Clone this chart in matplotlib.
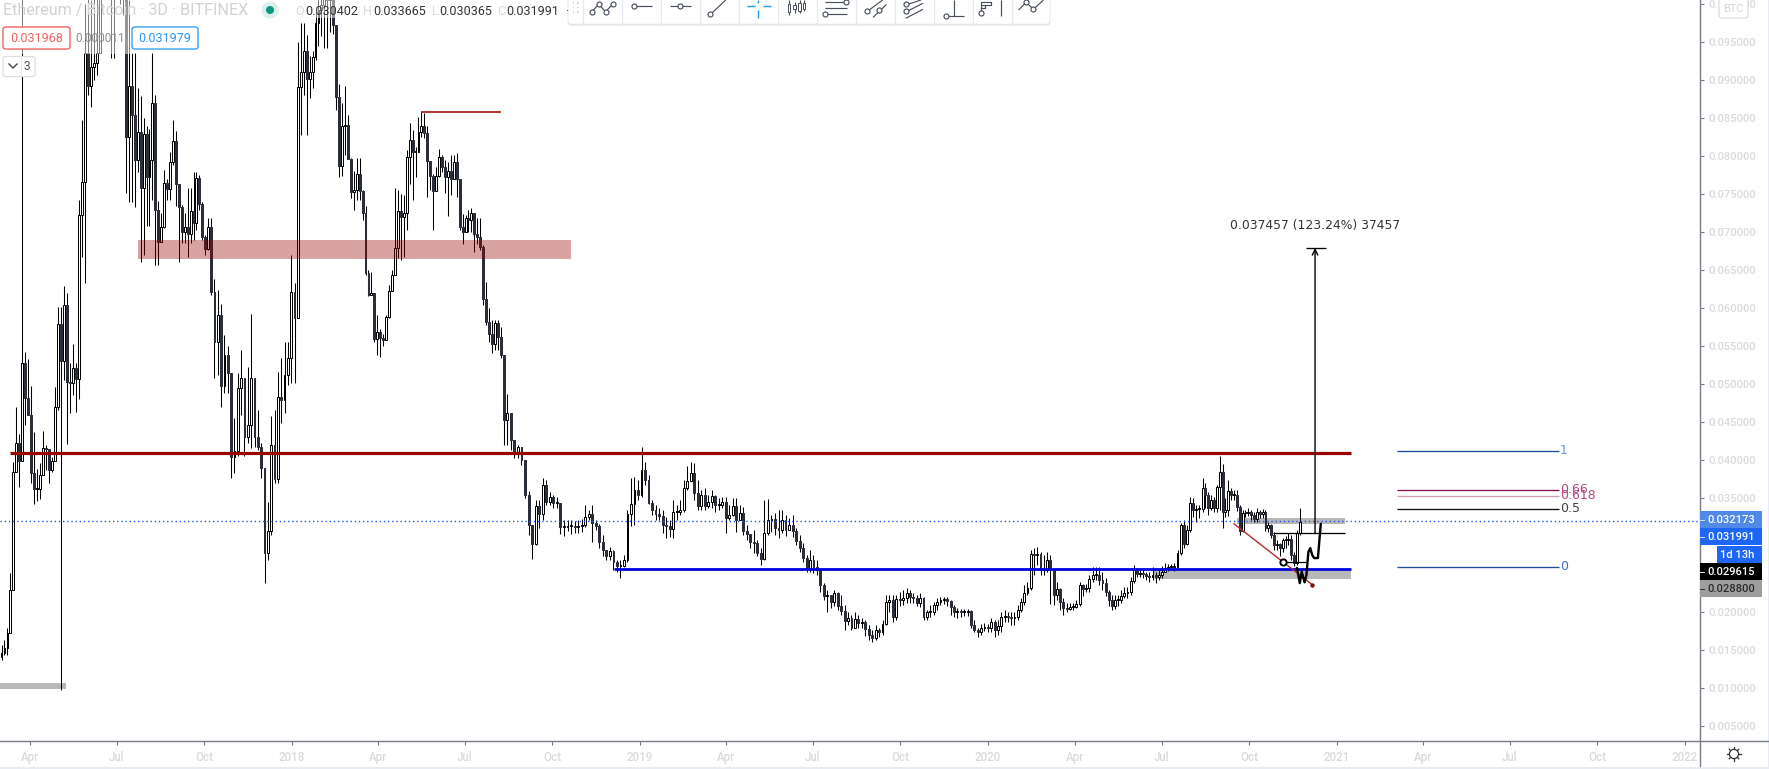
import matplotlib
matplotlib.use("Agg")
import matplotlib.pyplot as plt
import matplotlib.dates as mdates
from matplotlib.patches import Rectangle, FancyBboxPatch, Circle
import numpy as np
import pandas as pd

plt.rcParams['font.family'] = ['Roboto', 'DejaVu Sans']

# ---------- data: (close, high, low) of each 3D candle, period by period ----------
period_starts = ['2017-02-27', '2017-06-13', '2017-10-08', '2018-01-07', '2018-04-25', '2018-08-11',
                 '2018-11-23', '2019-03-06', '2019-06-21', '2019-10-04', '2020-01-15', '2020-04-30',
                 '2020-08-13', '2020-11-26']
first_open = 0.0135

candles_a = [(.0141,.0150,.0124),(.0146,.0157,.0137),(.0153,.0163,.0143),(.0172,.0179,.0143),(.0229,.0251,.0220),
(.0384,.0397,.0317),(.0422,.0470,.0384),(.0399,.0434,.0364),(.0528,.1100,.0461),(.0482,.0542,.0446),
(.0459,.0533,.0459),(.0383,.0497,.0370),(.0362,.0437,.0342),(.0362,.0388,.0346),(.0380,.0396,.0349),
(.0416,.0438,.0393),(.0414,.0420,.0387),(.0387,.0414,.0370),(.0399,.0404,.0384),(.0470,.0496,.0399),
(.0579,.0601,.0466),(.0530,.0601,.0097),(.0604,.0629,.0505),(.0503,.0620,.0421),(.0501,.0528,.0462),
(.0521,.0553,.0486),(.0507,.0528,.0463),(.0722,.0742,.0480),(.0766,.0847,.0667),(.0935,.1000,.0633),
(.0892,.1020,.0880),(.0917,.1005,.0864),(.0922,.1010,.0900),(.0935,.1050,.0907)]

candles_b = [(.108,.120,.0990),(.118,.130,.105),(.128,.140,.112),(.135,.150,.120),(.140,.155,.0929),(.130,.150,.0929),
(.135,.150,.115),(.125,.140,.100),(.115,.130,.0985),
(.0825,.112,.0751),(.0892,.1005,.0739),(.0854,.0935,.0739),(.0795,.0935,.0733),(.0832,.0890,.0779),
(.0758,.0879,.0661),(.0829,.0850,.0670),(.0772,.0839,.0708),(.0795,.0835,.0708),(.0870,.0935,.0742),
(.0729,.0880,.0657),(.0687,.0741,.0657),(.0707,.0725,.0687),(.0764,.0782,.0705),(.0757,.0770,.0742),
(.0792,.0805,.0742),(.0820,.0847,.0788),(.0763,.0833,.0734),(.0733,.0763,.0661),(.0700,.0735,.0686),
(.0707,.0725,.0686),(.0697,.0758,.0667),(.0728,.0758,.0686),(.0712,.0779,.0690),(.0771,.0779,.0703),
(.0737,.0775,.0729),(.0693,.0739,.0689),(.0678,.0696,.0670),(.0707,.0718,.0676)]

candles_c = [(.0621,.0718,.0617),(.0555,.0638,.0508),(.0591,.0624,.0512),(.0497,.0605,.0470),(.0538,.0564,.0488),
(.0514,.0550,.0488),(.0404,.0514,.0376),(.0412,.0455,.0383),(.0495,.0514,.0405),(.0508,.0545,.0459),
(.0430,.0508,.0405),(.0446,.0522,.0422),(.0508,.0592,.0416),(.0430,.0508,.0417),(.0417,.0466,.0413),
(.0389,.0422,.0376),(.0278,.0389,.0238),(.0307,.0345,.0268),(.0420,.0458,.0301),(.0375,.0466,.0370),
(.0483,.0516,.0370),(.0479,.0534,.0449),(.0512,.0555,.0462),(.0534,.0555,.0499),(.0621,.0670,.0501),
(.0587,.0633,.0501)]

candles_d = [(.0891,.0950,.0587),(.0911,.0975,.0828),(.0938,.0975,.0880),(.0901,.0959,.0828),(.0911,.0932,.0876),
(.0930,.0938,.0889),(.0975,.0990,.0926),(.0992,.1020,.0945),(.0999,.1040,.0958),(.1009,.1060,.0942),
(.1005,.1070,.0942),(.1012,.1070,.0963),(.0972,.1040,.0960),(.0878,.0972,.0860),(.0787,.0895,.0772),
(.0839,.0870,.0774),(.0841,.0892,.0801),(.0796,.0854,.0796),(.0753,.0797,.0745),(.0755,.0780,.0729),
(.0776,.0797,.0742),(.0754,.0797,.0742),(.0725,.0755,.0716),(.0646,.0734,.0643),(.0617,.0650,.0616),
(.0620,.0647,.0617),(.0559,.0620,.0555),(.0568,.0591,.0538),(.0561,.0572,.0536),(.0558,.0566,.0550),
(.0588,.0591,.0558),(.0622,.0630,.0587),(.0643,.0650,.0622),(.0679,.0758,.0643),(.0728,.0755,.0666)]

candles_e = [(.0720,.0750,.0663),(.0725,.0749,.0667),(.0799,.0808,.0703),(.0821,.0843,.0763),(.0805,.0834,.0742),
(.0805,.0812,.0772),(.0832,.0851,.0805),(.0839,.0858,.0825),(.0830,.0857,.0824),(.0793,.0839,.0746),
(.0774,.0791,.0755),(.0754,.0776,.0703),(.0774,.0785,.0755),(.0799,.0809,.0772),(.0786,.0801,.0779),
(.0772,.0795,.0751),(.0780,.0792,.0721),(.0770,.0801,.0749),(.0792,.0801,.0771),(.0770,.0804,.0746),
(.0707,.0770,.0703),(.0700,.0724,.0684),(.0718,.0722,.0700),(.0716,.0729,.0700),(.0725,.0732,.0700),
(.0697,.0725,.0674),(.0693,.0718,.0684),(.0680,.0718,.0676),(.0612,.0683,.0604),(.0582,.0634,.0578),
(.0566,.0600,.0555),(.0553,.0584,.0541),(.0580,.0584,.0545),(.0562,.0584,.0545),(.0538,.0575,.0534)]

candles_f = [(.0453,.0538,.0420),(.0462,.0487,.0420),(.0426,.0462,.0413),(.0411,.0426,.0403),(.0417,.0420,.0403),
(.0400,.0417,.0393),(.0354,.0400,.0350),(.0314,.0359,.0301),(.0289,.0314,.0270),(.0339,.0347,.0288),
(.0329,.0347,.0311),(.0367,.0376,.0321),(.0345,.0374,.0341),(.0351,.0358,.0341),(.0343,.0354,.0337),
(.0343,.0351,.0337),(.0312,.0343,.0303),(.0312,.0321,.0300),(.0313,.0321,.0306),(.0313,.0321,.0303),
(.0312,.0320,.0304),(.0313,.0321,.0304),(.0314,.0322,.0305),(.0325,.0341,.0312),(.0329,.0334,.0321),
(.0317,.0341,.0292),(.0313,.0321,.0308),(.0292,.0316,.0284)]

candles_g = [(.0282,.0301,.0274),(.0274,.0282,.0268),(.0280,.0286,.0268),(.0266,.0282,.0255),(.0261,.0268,.0253),
(.0261,.0268,.0245),(.0268,.0275,.0259),(.0329,.0334,.0266),(.0342,.0376,.0313),(.0361,.0378,.0314),
(.0354,.0374,.0347),(.0387,.0417,.0351),(.0374,.0397,.0367),(.0343,.0380,.0342),(.0334,.0347,.0328),
(.0329,.0341,.0321),(.0326,.0337,.0321),(.0314,.0334,.0304),(.0313,.0325,.0297),(.0309,.0321,.0299),
(.0332,.0347,.0297),(.0332,.0341,.0321),(.0334,.0347,.0328),(.0363,.0374,.0332),(.0372,.0392,.0361),
(.0383,.0397,.0374),(.0357,.0396,.0347),(.0339,.0374,.0334)]

candles_h = [(.0354,.0360,.0334),(.0339,.0363,.0334),(.0345,.0354,.0337),(.0353,.0360,.0337),(.0341,.0354,.0332),
(.0341,.0350,.0334),(.0345,.0351,.0337),(.0324,.0351,.0304),(.0328,.0341,.0321),(.0339,.0350,.0326),
(.0321,.0350,.0305),(.0330,.0341,.0321),(.0307,.0338,.0301),(.0303,.0314,.0295),(.0292,.0301,.0284),
(.0291,.0308,.0278),(.0278,.0295,.0274),(.0270,.0284,.0262),(.0304,.0347,.0268),(.0321,.0349,.0301),
(.0322,.0328,.0305),(.0311,.0330,.0301),(.0308,.0334,.0297),(.0321,.0334,.0304),(.0308,.0328,.0300),
(.0314,.0324,.0308),(.0307,.0328,.0299),(.0293,.0311,.0288),(.0284,.0301,.0279)]

candles_i = [(.0271,.0291,.0266),(.0258,.0275,.0253),(.0268,.0282,.0253),(.0259,.0275,.0251),(.0255,.0268,.0249),
(.0236,.0258,.0226),(.0221,.0238,.0216),(.0222,.0229,.0200),(.0213,.0222,.0205),(.0225,.0229,.0208),
(.0208,.0226,.0203),(.0201,.0222,.0196),(.0188,.0209,.0176),(.0192,.0200,.0183),(.0179,.0196,.0176),
(.0191,.0200,.0179),(.0186,.0196,.0179),(.0187,.0192,.0179),(.0178,.0189,.0168),(.0170,.0183,.0163),
(.0166,.0176,.0161),(.0176,.0183,.0163),(.0174,.0179,.0167),(.0184,.0189,.0170),(.0213,.0222,.0183),
(.0216,.0222,.0200),(.0193,.0222,.0187),(.0217,.0222,.0189),(.0216,.0226,.0208)]

candles_j = [(.0218,.0229,.0209),(.0225,.0232,.0212),(.0220,.0229,.0212),(.0218,.0225,.0212),(.0212,.0222,.0208),
(.0218,.0225,.0207),(.0193,.0220,.0189),(.0200,.0203,.0189),(.0200,.0209,.0193),(.0209,.0213,.0196),
(.0213,.0218,.0203),(.0216,.0220,.0209),(.0217,.0220,.0211),(.0214,.0220,.0208),(.0207,.0216,.0196),
(.0200,.0209,.0193),(.0201,.0205,.0192),(.0200,.0204,.0193),(.0200,.0204,.0195),(.0201,.0204,.0195),
(.0183,.0203,.0179),(.0176,.0189,.0174),(.0174,.0179,.0167),(.0179,.0184,.0170),(.0180,.0186,.0175),
(.0179,.0184,.0174),(.0187,.0192,.0174),(.0176,.0189,.0167),(.0182,.0189,.0170)]

candles_k = [(.0193,.0200,.0174),(.0195,.0203,.0187),(.0193,.0200,.0187),(.0192,.0200,.0183),(.0193,.0200,.0183),
(.0203,.0209,.0189),(.0213,.0218,.0200),(.0225,.0236,.0209),(.0232,.0239,.0222),(.0276,.0282,.0229),
(.0275,.0284,.0249),(.0276,.0286,.0262),(.0255,.0279,.0249),(.0255,.0275,.0249),(.0268,.0279,.0253),
(.0255,.0275,.0211),(.0222,.0258,.0209),(.0230,.0239,.0216),(.0213,.0232,.0203),(.0205,.0218,.0196),
(.0204,.0212,.0200),(.0207,.0212,.0203),(.0207,.0212,.0203),(.0211,.0216,.0205),(.0236,.0239,.0208),
(.0230,.0237,.0221),(.0232,.0237,.0226),(.0243,.0249,.0226),(.0249,.0259,.0239),(.0249,.0259,.0242),
(.0242,.0259,.0236)]

candles_l = [(.0238,.0253,.0229),(.0226,.0245,.0221),(.0216,.0229,.0208),(.0208,.0222,.0203),(.0216,.0222,.0204),
(.0216,.0222,.0208),(.0221,.0229,.0212),(.0225,.0233,.0218),(.0226,.0233,.0218),(.0241,.0246,.0222),
(.0255,.0262,.0238),(.0250,.0258,.0246),(.0251,.0255,.0246),(.0250,.0255,.0245),(.0247,.0253,.0242),
(.0246,.0253,.0239),(.0249,.0259,.0242),(.0246,.0253,.0238),(.0249,.0255,.0242),(.0253,.0261,.0245),
(.0258,.0264,.0253),(.0259,.0263,.0254),(.0259,.0263,.0255),(.0259,.0264,.0254),(.0278,.0282,.0258),
(.0314,.0317,.0275),(.0289,.0321,.0284),(.0308,.0314,.0288),(.0343,.0351,.0305),(.0334,.0350,.0325),
(.0336,.0341,.0318),(.0336,.0341,.0324)]

candles_m = [(.0363,.0376,.0332),(.0354,.0370,.0337),(.0337,.0358,.0328),(.0347,.0354,.0334),(.0337,.0351,.0332),
(.0364,.0367,.0332),(.0384,.0405,.0334),(.0332,.0395,.0311),(.0334,.0350,.0325),(.0359,.0374,.0326),
(.0354,.0363,.0347),(.0354,.0360,.0347),(.0338,.0360,.0333),(.0307,.0341,.0301),(.0330,.0334,.0305),
(.0330,.0334,.0325),(.0332,.0337,.0326),(.0328,.0334,.0321),(.0322,.0332,.0318),(.0332,.0337,.0318),
(.0329,.0334,.0324),(.0332,.0336,.0324),(.0311,.0334,.0307),(.0314,.0318,.0305),(.0301,.0316,.0297),
(.0288,.0305,.0282),(.0289,.0295,.0282),(.0284,.0291,.0274),(.0295,.0297,.0279),(.0295,.0300,.0284),
(.0296,.0304,.0288),(.0275,.0301,.0268),(.0264,.0279,.0260),(.0304,.0308,.0262),(.0318,.0337,.0301)]

periods = [candles_a, candles_b, candles_c, candles_d, candles_e, candles_f, candles_g,
           candles_h, candles_i, candles_j, candles_k, candles_l, candles_m]

# drawn studies
resistance_level = 0.04092
support_level = 0.02566
last_price_level = 0.03197
fib_labels = ['1', '0.66', '0.618', '0.5', '0']
fib_levels = [0.04114, 0.03601, 0.03530, 0.03355, 0.02592]
fib_colors = ['#1f4e9c', '#880e4f', '#d39ab4', '#111111', '#1f4e9c']
fib_text_colors = ['#6d94d6', '#b0487e', '#b0487e', '#444444', '#3f6fc4']
brush_dates = ['2020-11-20', '2020-11-23', '2020-11-25', '2020-11-28', '2020-11-30', '2020-12-02',
               '2020-12-04', '2020-12-06', '2020-12-08', '2020-12-12', '2020-12-13', '2020-12-15']
brush_prices = [.0258, .0238, .0253, .0239, .0249, .0279, .0284, .0275, .0271, .0271, .0286, .0316]
y_ticks = [0.005 * k for k in range(1, 21)]
x_tick_dates = ['2017-04-01', '2017-07-01', '2017-10-01', '2018-01-01', '2018-04-01', '2018-07-01', '2018-10-01',
                '2019-01-01', '2019-04-01', '2019-07-01', '2019-10-01', '2020-01-01', '2020-04-01', '2020-07-01',
                '2020-10-01', '2021-01-01', '2021-04-01', '2021-07-01', '2021-10-01', '2022-01-01']
x_tick_labels = ['Apr', 'Jul', 'Oct', '2018', 'Apr', 'Jul', 'Oct', '2019', 'Apr', 'Jul', 'Oct', '2020',
                 'Apr', 'Jul', 'Oct', '2021', 'Apr', 'Jul', 'Oct', '2022']

def D(s):
    return mdates.date2num(pd.Timestamp(s))

W, H = 1769, 769
fig = plt.figure(figsize=(W / 100, H / 100), dpi=100, facecolor='white')
ax = fig.add_axes([0, (H - 741) / H, 1700 / W, 741 / H])
ax.set_facecolor('white')
ax.set_xlim(D('2017-04-01') - 31.47, D('2017-04-01') + 1751.8)
ax.set_ylim(23 / 7600, 764 / 7600)

# ---------- candles ----------
xs, opens, closes, highs, lows = [], [], [], [], []
prev = first_open
for k, rows in enumerate(periods):
    t0, t1 = D(period_starts[k]), D(period_starts[k + 1])
    days = np.linspace(t0, t1, len(rows), endpoint=False)
    for d, (c, h, l) in zip(days, rows):
        xs.append(d); opens.append(prev); closes.append(c); highs.append(h); lows.append(l)
        prev = c
xs, opens, closes, highs, lows = map(np.array, (xs, opens, closes, highs, lows))
up = closes >= opens
ax.vlines(xs, lows, highs, color='black', lw=0.75, zorder=2)
b = np.minimum(opens, closes)
hgt = np.abs(closes - opens)
hgt = np.maximum(hgt, 0.00012)
ax.bar(xs[up], hgt[up], bottom=b[up], width=2.0, color='white', edgecolor='black', lw=0.72, zorder=3)
ax.bar(xs[~up], hgt[~up], bottom=b[~up], width=2.0, color='#2a2e39', edgecolor='#2a2e39', lw=0.72, zorder=3)

# ---------- studies ----------
ax.add_patch(Rectangle((D('2017-07-23'), (764 - 259) / 7600), D('2018-10-21') - D('2017-07-23'), 19 / 7600,
                       fc='#990000', alpha=0.36, ec='none', zorder=5))
ax.hlines(0.08579, D('2018-05-16'), D('2018-08-08'), color='#990000', lw=1.1, zorder=6)
ax.add_patch(Rectangle((D('2017-01-01'), 0.0099), D('2017-05-09') - D('2017-01-01'), 0.0008,
                       fc='#b8b8b8', ec='none', zorder=1))
ax.add_patch(Rectangle((D('2020-06-23'), 0.0243), D('2021-01-16') - D('2020-06-23'), 0.00122,
                       fc='#b8b8b8', ec='none', zorder=1))
ax.add_patch(Rectangle((D('2020-09-18'), 0.0316), D('2021-01-09') - D('2020-09-18'), 0.0008,
                       fc='#b8b8b8', ec='none', zorder=1))
ax.hlines(resistance_level, D('2017-03-11'), D('2021-01-16'), color='#990000', lw=2.3, zorder=6)
ax.hlines(support_level, D('2018-12-05'), D('2021-01-16'), color='#0000e0', lw=2.0, zorder=6)
ax.axhline(last_price_level, color='#1a56f0', lw=1.0, ls=(0, (1, 2.0)), zorder=4)

ax.hlines(0.0304, D('2020-10-26'), D('2021-01-09'), color='black', lw=0.95, zorder=6)
ax.hlines(0.0266, D('2020-11-05'), D('2020-11-29'), color='black', lw=0.95, zorder=6)
ax.plot([D('2020-09-15'), D('2020-12-06')], [0.0316, 0.0236], color='#b52a2a', lw=1.0, zorder=6)
ax.plot([D('2020-12-06')], [0.0236], 'o', color='#7a1515', ms=2.2, zorder=6)
ax.plot([D('2020-11-05')], [0.0266], 'o', mfc='white', mec='black', mew=1.4, ms=4.5, zorder=7)
ax.plot([D(d) for d in brush_dates], brush_prices, color='black', lw=1.7, solid_capstyle='round',
        solid_joinstyle='round', zorder=7)

# price range measure
ax.annotate('', xy=(D('2020-12-09'), 0.0679), xytext=(D('2020-12-09'), 0.0304),
            arrowprops=dict(arrowstyle='->', lw=1.0, color='black', shrinkA=0, shrinkB=0, mutation_scale=10), zorder=7)
ax.hlines(0.0679, D('2020-11-29'), D('2020-12-20'), color='black', lw=0.95, zorder=7)
ax.text(D('2020-12-09'), 0.0708, '0.037457 (123.24%) 37457', ha='center', va='center', color='#333333',
        fontsize=8.9, family=['DejaVu Sans'], zorder=7)

# fibonacci levels
for lab, lev, col, tc in zip(fib_labels, fib_levels, fib_colors, fib_text_colors):
    ax.hlines(lev, D('2021-03-05'), D('2021-08-22'), color=col, lw=0.95, zorder=6)
    ax.text(D('2021-08-23'), lev + 0.00005, lab, color=tc, fontsize=9.0, ha='left', va='center', zorder=6,
            family=['DejaVu Sans'])

# ---------- axes ----------
for s in ('top', 'left', 'bottom'):
    ax.spines[s].set_visible(False)
ax.spines['right'].set_color('#787b86')
ax.spines['right'].set_linewidth(1.0)
ax.yaxis.tick_right()
ax.set_yticks(y_ticks)
ax.set_yticklabels(['%.6f' % v for v in y_ticks], color='#dadada', fontsize=8.0, fontweight='medium')
ax.tick_params(axis='y', length=3, width=0.8, color='#787b86', pad=3)
ax.set_xticks([D(d) for d in x_tick_dates])
ax.set_xticklabels(x_tick_labels, color='#dadada', fontsize=8.3, fontweight='medium')
ax.tick_params(axis='x', length=3, width=0.8, color='#787b86', pad=4)

# ---------- interface furniture, in figure pixels ----------
ui = fig.add_axes([0, 0, 1, 1], zorder=10)
ui.set_xlim(0, W); ui.set_ylim(H, 0); ui.axis('off'); ui.patch.set_alpha(0)

ui.plot([0, 1769], [741, 741], color='#787b86', lw=1.0)
ui.plot([1700, 1700], [741, 766], color='#787b86', lw=1.0)
ui.add_patch(Rectangle((0, 766.5), W, 3, fc='#eaebf3', ec='none'))
ui.add_patch(Rectangle((1767.5, 0), 2, H, fc='#eaebf3', ec='none'))

# fading behind the legend
ui.add_patch(Rectangle((0, 0), 135, 54, fc='white', alpha=0.5, ec='none'))
ui.add_patch(Rectangle((290, 0), 270, 18, fc='white', alpha=0.5, ec='none'))

txt = dict(va='center', ha='left')
ui.text(3, 11, 'Ethereum / Bitcoin · 3D · BITFINEX', color='#d2d2d2', fontsize=11.6, **txt)
ui.add_patch(Circle((270, 10), 8.5, fc='#dcefec', ec='none'))
ui.add_patch(Circle((270, 10), 4, fc='#089981', ec='none'))
for x, s, col in [(295, 'O', '#d8d8d8'), (305, '0.030402', '#333333'), (363, 'H', '#d8d8d8'), (373, '0.033665', '#333333'),
                  (432, 'L', '#d8d8d8'), (439, '0.030365', '#333333'), (497, 'C', '#d8d8d8'), (506, '0.031991', '#333333')]:
    ui.text(x, 11.5, s, color=col, fontsize=9.0, **txt)
ui.text(565, 11.5, '·', color='#333333', fontsize=9.0, **txt)

ui.add_patch(FancyBboxPatch((3, 27), 67, 22, boxstyle='round,pad=0,rounding_size=2.5', fc='white', ec='#ef5350', lw=0.9))
ui.text(36.5, 38.5, '0.031968', color='#ef6360', fontsize=9, ha='center', va='center')
ui.text(100, 38.5, '0.000011', color='#8f8f8f', fontsize=8.6, ha='center', va='center')
ui.add_patch(FancyBboxPatch((132, 27), 66, 22, boxstyle='round,pad=0,rounding_size=2.5', fc='white', ec='#2196f3', lw=0.9))
ui.text(165, 38.5, '0.031979', color='#2a96f0', fontsize=9, ha='center', va='center')
ui.add_patch(FancyBboxPatch((3, 56.5), 32, 20, boxstyle='round,pad=0,rounding_size=2.5', fc='white', ec='#dcdde6', lw=0.9))
ui.plot([9, 13, 17], [64, 68, 64], color='#444444', lw=1.0)
ui.plot([21, 21], [57, 76], color='#e6e6ee', lw=0.7)
ui.text(26.5, 66.5, '3', color='#555555', fontsize=8.5, ha='center', va='center')

# toolbar
ui.add_patch(FancyBboxPatch((568, -8), 482, 33.5, boxstyle='round,pad=0,rounding_size=3', fc='#d8dde3', ec='none'))
ui.add_patch(FancyBboxPatch((568, -8), 482, 32.2, boxstyle='round,pad=0,rounding_size=3', fc='white', ec='#e4e7eb', lw=0.6))
for k in range(12):
    ui.plot([583 + 39 * k] * 2, [0, 24.5], color='#e6e9ee', lw=0.9)
for dx in (572.5, 577):
    for dy in (2, 6.5, 11):
        ui.add_patch(Rectangle((dx, dy), 1.6, 1.6, fc='#d6d9de', ec='none'))

ic = '#4a4f5c'
def zx(v): return 500 + v / 2.613
def zy(v): return v / 3
def seg(pts, col=ic, lw=0.85):
    ui.plot([zx(p[0]) for p in pts], [zy(p[1]) for p in pts], color=col, lw=lw, solid_capstyle='butt')
def dot(x, y):
    ui.plot([zx(x)], [zy(y)], 'o', mfc='white', mec=ic, mew=0.85, ms=3.6)
seg([(240, 35), (258, 13), (276, 35), (294, 13)])
for p in [(240, 35), (258, 13), (276, 35), (294, 13)]: dot(*p)
seg([(349, 19), (397, 19)]); dot(349, 19)
seg([(445, 19), (498, 19)]); dot(471, 19)
seg([(550, 43), (590, 0)]); dot(550, 43)
for p in [[(645, 19), (666, 19)], [(686, 19), (707, 19)], [(675, 0), (675, 9)], [(675, 29), (675, 53)]]:
    seg(p, col='#1e9bf0', lw=1.0)
for x, y0, y1, t0, t1 in [(755, 12, 36, 0, 46), (770, 14, 28, 5, 40), (783, 8, 34, 0, 40), (795, 8, 26, 0, 33)]:
    seg([(x, t0), (x, t1)])
    ui.add_patch(Rectangle((zx(x) - 1.2, zy(y0)), 2.4, zy(y1) - zy(y0), fc='white', ec=ic, lw=0.7, zorder=4))
seg([(848, 7), (905, 7)]); dot(905, 7); seg([(848, 25), (907, 25)]); seg([(850, 43), (907, 43)]); dot(850, 43)
seg([(960, 34), (1000, 0)]); dot(960, 34); seg([(975, 52), (1010, 13)]); dot(991, 31)
seg([(1060, 15), (1100, 0)]); seg([(1060, 36), (1105, 10)]); seg([(1060, 55), (1105, 28)]); dot(1062, 12); dot(1060, 33)
seg([(1187, 0), (1187, 47)]); seg([(1165, 49), (1212, 49)]); dot(1165, 49)
seg([(1258, 35), (1258, 5), (1282, 5), (1282, 14), (1258, 14)]); seg([(1258, 24), (1268, 24), (1268, 14)]); dot(1258, 40)
seg([(1310, 0), (1310, 47)])
seg([(1355, 30), (1375, 7), (1394, 28), (1420, 0)]); dot(1375, 7); dot(1394, 28)

# price scale badges
ui.add_patch(FancyBboxPatch((1719, -6), 29, 24, boxstyle='round,pad=0,rounding_size=3', fc='white', ec='#d9dae5', lw=0.9))
ui.text(1733.5, 9, 'BTC', color='#d6d6d6', fontsize=8.0, ha='center', va='center')
for y0, y1, x0, fc, tc, s in [(511, 528, 1700, '#4e8ae6', 'white', '0.032173'),
                              (528, 545, 1700, '#1e66f5', 'white', '0.031991'),
                              (546, 563, 1717, '#1e66f5', 'white', '1d 13h'),
                              (563, 580, 1700, 'black', 'white', '0.029615'),
                              (580, 597, 1700, '#9e9e9e', '#2b2b2b', '0.028800')]:
    ui.add_patch(Rectangle((x0, y0), 1762 - x0, y1 - y0, fc=fc, ec='none', zorder=3))
    if s == '1d 13h':
        ui.text(1737.5, (y0 + y1) / 2 + 0.5, s, color=tc, fontsize=8.0, ha='center', va='center', fontweight='medium', zorder=4)
    else:
        ui.text(1731.5, (y0 + y1) / 2 + 0.5, s, color=tc, fontsize=8.0, ha='center', va='center', fontweight='medium', zorder=4)
        ui.plot([1700, 1704], [(y0 + y1) / 2] * 2, color='#dddddd' if fc != '#9e9e9e' else '#333333', lw=0.7, zorder=4)

# settings gear
ui.add_patch(Circle((1734, 754), 4.6, fc='white', ec='#333333', lw=0.9))
for a in np.arange(0, 360, 45):
    r = np.deg2rad(a)
    ui.plot([1734 + 4.8 * np.cos(r), 1734 + 6.8 * np.cos(r)], [754 + 4.8 * np.sin(r), 754 + 6.8 * np.sin(r)],
            color='#333333', lw=0.9)

fig.savefig('out.png', dpi=100, facecolor='white')
